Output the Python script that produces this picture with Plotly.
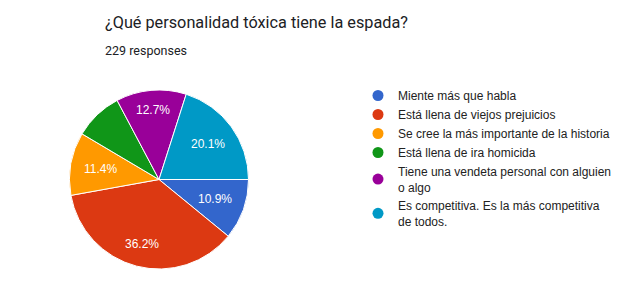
import math
import plotly.graph_objects as go

labels = [
    "Miente más que habla",
    "Está llena de viejos prejuicios",
    "Se cree la más importante de la historia",
    "Está llena de ira homicida",
    "Tiene una vendeta personal con alguien<br>o algo",
    "Es competitiva. Es la más competitiva<br>de todos.",
]
counts = [25, 83, 26, 20, 29, 46]
colors = ["#3366cc", "#dc3912", "#ff9900", "#109618", "#990099", "#0099c6"]
show_label = [True, True, True, False, True, True]

title_text = "¿Qué personalidad tóxica tiene la espada?"
subtitle_text = f"{sum(counts)} responses"

W, H = 644, 283
cx, cy, r = 159, 179.5, 89.5

fig = go.Figure()
fig.add_trace(go.Pie(
    labels=labels,
    values=counts,
    sort=False,
    direction="clockwise",
    rotation=90,
    marker=dict(colors=colors, line=dict(color="white", width=1)),
    textinfo="none",
    showlegend=False,
    hoverinfo="label+percent",
    domain=dict(x=[(cx - r) / W, (cx + r) / W], y=[(H - cy - r) / H, (H - cy + r) / H]),
))

for lab, col in zip(labels, colors):
    fig.add_trace(go.Scatter(
        x=[None], y=[None], mode="markers", name=lab,
        marker=dict(symbol="circle", size=11, color=col),
        showlegend=True,
    ))

# slice percentage labels placed along each slice bisector (Google Charts style)
total = sum(counts)
annotations = []
cum = 0
tw, th = 33, 12
R0 = 0.86 * r
for c, s in zip(counts, show_label):
    mid = (cum + c / 2) / total
    cum += c
    if not s:
        continue
    ang = 2 * math.pi * mid  # clockwise from 3 o'clock, screen coords (y down)
    ca, sa = math.cos(ang), math.sin(ang)
    d = R0 - abs(ca) * tw / 2 - abs(sa) * th / 2
    px = cx + d * ca
    py = cy + d * sa
    annotations.append(dict(
        text=f"{100 * c / total:.1f}%", x=px / W, y=1 - py / H,
        xref="paper", yref="paper", xanchor="center", yanchor="middle",
        showarrow=False, font=dict(family="Liberation Sans, Arial", size=12, color="white"),
    ))

annotations += [
    dict(text=title_text, x=103 / W, y=1 - 22 / H, xref="paper", yref="paper",
         xanchor="left", yanchor="middle", showarrow=False,
         font=dict(family="Roboto", size=16.25, color="#202124")),
    dict(text=subtitle_text, x=103 / W, y=1 - 50 / H, xref="paper", yref="paper",
         xanchor="left", yanchor="middle", showarrow=False,
         font=dict(family="Roboto", size=12.5, color="#202124")),
]

fig.update_layout(
    width=W, height=H,
    margin=dict(l=0, r=0, t=0, b=0),
    paper_bgcolor="white",
    plot_bgcolor="white",
    xaxis=dict(visible=False),
    yaxis=dict(visible=False),
    legend=dict(
        x=358 / W, xanchor="left",
        y=1 - 81 / H, yanchor="top",
        font=dict(family="Liberation Sans, Arial", size=12, color="#222222"),
        bgcolor="rgba(0,0,0,0)",
        traceorder="normal",
    ),
    annotations=annotations,
)

fig.write_html("out.html")
